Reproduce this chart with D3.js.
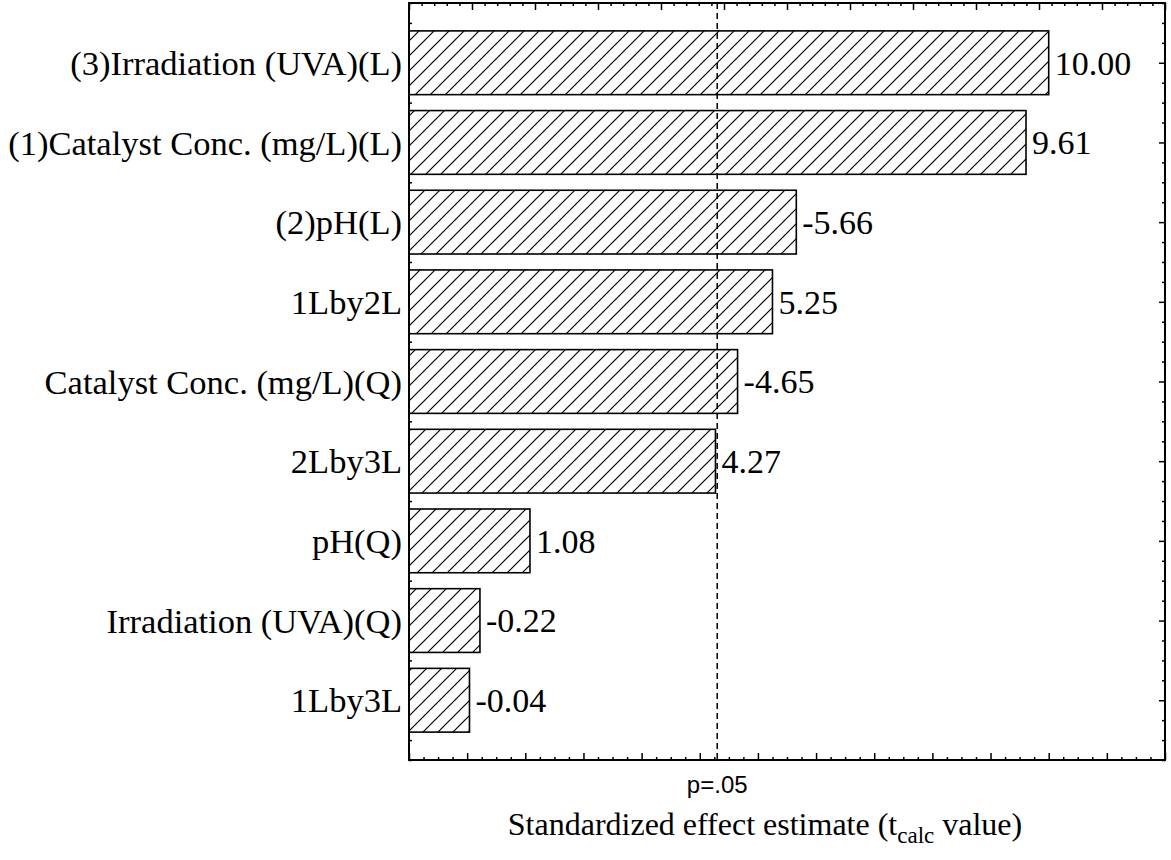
<!DOCTYPE html>
<html>
<head>
<meta charset="utf-8">
<script src="https://cdn.jsdelivr.net/npm/d3@7/dist/d3.min.js"></script>
<style>
  html, body { margin: 0; padding: 0; background: #fff; }
  svg { display: block; }
</style>
</head>
<body>
<svg id="chart" width="1171" height="860"></svg>
<script>
// ---- data ----
const categories = [
  "(3)Irradiation (UVA)(L)",
  "(1)Catalyst Conc. (mg/L)(L)",
  "(2)pH(L)",
  "1Lby2L",
  "Catalyst Conc. (mg/L)(Q)",
  "2Lby3L",
  "pH(Q)",
  "Irradiation (UVA)(Q)",
  "1Lby3L"
];
const effects = [10.00, 9.61, -5.66, 5.25, -4.65, 4.27, 1.08, -0.22, -0.04];
const pLimit = 4.30;
const pLabel = "p=.05";
const xTitleMain = "Standardized effect estimate (t";
const xTitleSub = "calc";
const xTitleEnd = " value)";

// ---- layout ----
const svg = d3.select("#chart");
const L = 409, R = 1165, T = 3, B = 760;

const x = d3.scaleLinear().domain([-1, 12]).range([L, R]);
const xTop = d3.scaleLinear().domain([0, 12]).range([L, R]);
const y = d3.scaleLinear().domain([-0.75, 8.75]).range([T, B]);
const barH = (y(1) - y(0)) * 0.8;

// hatch pattern
const defs = svg.append("defs");
const pat = defs.append("pattern")
  .attr("id", "hatch")
  .attr("patternUnits", "userSpaceOnUse")
  .attr("width", 15).attr("height", 15);
pat.append("rect").attr("width", 15).attr("height", 15).attr("fill", "#fff");
pat.append("path")
  .attr("d", "M0,15 L15,0 M-3.75,3.75 L3.75,-3.75 M11.25,18.75 L18.75,11.25")
  .attr("stroke", "#000").attr("stroke-width", 1.2).attr("fill", "none");

// axes ticks (inside)
function tickAxis(gen, scale, vals, size, transform) {
  const g = svg.append("g").attr("transform", transform)
    .call(gen(scale).tickValues(vals).tickSize(-size).tickFormat(""));
  g.select(".domain").remove();
  g.selectAll("line").attr("stroke", "#000").attr("stroke-width", 1.5);
}
const xMaj = d3.range(-1, 12.001, 1);
const xMin = d3.range(-1, 12.001, 0.25).filter(v => Math.abs(v - Math.round(v)) > 1e-6);
tickAxis(d3.axisBottom, x, xMaj, 7, `translate(0,${B})`);
tickAxis(d3.axisBottom, x, xMin, 3, `translate(0,${B})`);
const tMaj = d3.range(0, 12.001, 1);
const tMin = d3.range(0, 12.001, 0.2).filter(v => Math.abs(v - Math.round(v)) > 1e-6);
tickAxis(d3.axisTop, xTop, tMaj, 7, `translate(0,${T})`);
tickAxis(d3.axisTop, xTop, tMin, 3, `translate(0,${T})`);
const yMaj = d3.range(0, 9, 1);
const yMin = d3.range(-0.75, 8.751, 0.25).filter(v => Math.abs(v - Math.round(v)) > 1e-6);
tickAxis(d3.axisRight, y, yMaj, 6, `translate(${R},0)`);
tickAxis(d3.axisRight, y, yMin, 3, `translate(${R},0)`);
tickAxis(d3.axisLeft, y, yMaj, 6, `translate(${L},0)`);
tickAxis(d3.axisLeft, y, yMin, 3, `translate(${L},0)`);

// bars
svg.append("g").selectAll("rect")
  .data(effects)
  .join("rect")
  .attr("x", L)
  .attr("y", (d, i) => y(i) - barH / 2)
  .attr("width", d => x(Math.abs(d)) - L)
  .attr("height", barH)
  .attr("fill", "url(#hatch)")
  .attr("stroke", "#000")
  .attr("stroke-width", 1.6);

// value labels
svg.append("g").selectAll("text")
  .data(effects)
  .join("text")
  .attr("x", d => x(Math.abs(d)) + 6)
  .attr("y", (d, i) => y(i))
  .attr("dy", "0.35em")
  .attr("font-family", "'Liberation Serif', 'Times New Roman', serif")
  .attr("font-size", 34)
  .attr("fill", "#000")
  .text(d => d.toFixed(2));

// category labels
svg.append("g").selectAll("text")
  .data(categories)
  .join("text")
  .attr("x", L - 7)
  .attr("y", (d, i) => y(i))
  .attr("dy", "0.35em")
  .attr("text-anchor", "end")
  .attr("font-family", "'Liberation Serif', 'Times New Roman', serif")
  .attr("font-size", 34.5)
  .attr("fill", "#000")
  .text(d => d);

// p-limit line
svg.append("line")
  .attr("x1", x(pLimit)).attr("x2", x(pLimit))
  .attr("y1", T).attr("y2", B)
  .attr("stroke", "#000").attr("stroke-width", 1.5)
  .attr("stroke-dasharray", "6,4");

svg.append("text")
  .attr("x", x(pLimit)).attr("y", 793)
  .attr("text-anchor", "middle")
  .attr("font-family", "'Liberation Sans', Arial, sans-serif")
  .attr("font-size", 24)
  .attr("fill", "#000")
  .text(pLabel);

// frame
svg.append("rect")
  .attr("x", L).attr("y", T).attr("width", R - L).attr("height", B - T)
  .attr("fill", "none").attr("stroke", "#000").attr("stroke-width", 2);

// x title
const tt = svg.append("text")
  .attr("x", 765).attr("y", 835)
  .attr("text-anchor", "middle")
  .attr("font-family", "'Liberation Serif', 'Times New Roman', serif")
  .attr("font-size", 32)
  .attr("fill", "#000");
tt.append("tspan").text(xTitleMain);
tt.append("tspan").attr("font-size", 23).attr("dy", 8).text(xTitleSub);
tt.append("tspan").attr("dy", -8).text(xTitleEnd);
</script>
</body>
</html>
